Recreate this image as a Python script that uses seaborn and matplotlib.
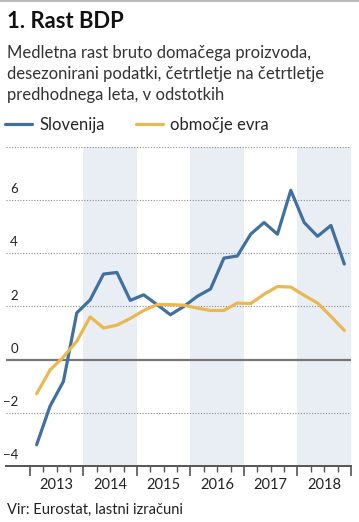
import numpy as np
import pandas as pd
import matplotlib
matplotlib.use('Agg')
import matplotlib.pyplot as plt
import matplotlib.transforms as mtransforms
import seaborn as sns

# Data (quarterly, y/y growth in %)
leta = [2013, 2014, 2015, 2016, 2017, 2018]
slovenija = [-3.2, -1.75, -0.82, 1.76, 2.25, 3.22, 3.28, 2.23,
             2.44, 2.07, 1.69, 2.0, 2.38, 2.66, 3.82, 3.9,
             4.72, 5.16, 4.72, 6.37, 5.16, 4.64, 5.05, 3.6]
evro = [-1.28, -0.39, 0.1, 0.69, 1.61, 1.19, 1.3, 1.55,
        1.85, 2.07, 2.07, 2.05, 1.94, 1.85, 1.85, 2.13,
        2.11, 2.46, 2.75, 2.73, 2.42, 2.13, 1.63, 1.1]
y_ticks = [-4, -2, 0, 2, 4, 6]
y_grid = [-2, 2, 4, 6, 8]

BLUE = '#41709f'
YELLOW = '#ebb74f'
SHADE = '#e9eef4'

sns.set_theme(style='white')
plt.rcParams['font.family'] = ['Lato', 'DejaVu Sans']

n = len(slovenija)
df = pd.DataFrame({
    'x': list(range(n)) * 2,
    'value': slovenija + evro,
    'serija': ['Slovenija'] * n + ['območje evra'] * n,
})

W, H = 359, 522
fig = plt.figure(figsize=(W / 100, H / 100), dpi=100)
ax = fig.add_axes([6 / W, 1 - 466 / H, 345 / W, (466 - 147) / H])

# shaded years
for i, yr in enumerate(leta):
    if i % 2 == 1:
        ax.axvspan(i * 4 - 0.5, i * 4 + 3.5, color=SHADE, lw=0, zorder=0)

for g in y_grid:
    ax.axhline(g, color='#8a8a8a', lw=0.8, ls=(0, (1, 1.5)), zorder=1)
ax.axhline(0, color='#777777', lw=1.6, zorder=1)

sns.lineplot(data=df, x='x', y='value', hue='serija',
             palette={'Slovenija': BLUE, 'območje evra': YELLOW},
             lw=2.3, ax=ax, legend=False, zorder=3)
handles = [l for l in ax.get_lines() if l.get_color() in (BLUE, YELLOW)][:2]

ax.set_xlim(-0.5 - 24 / 13.4, 23.5)
ax.set_ylim(-4, 8)
ax.set_xlabel('')
ax.set_ylabel('')
for s in ['top', 'left', 'right']:
    ax.spines[s].set_visible(False)
ax.spines['bottom'].set_color('#555555')
ax.spines['bottom'].set_linewidth(1.4)

ax.set_yticks([])
for t in y_ticks:
    lab = str(t).replace('-', '\u2212')
    ax.annotate(lab, xy=(0.035, t), xycoords=('axes fraction', 'data'),
                xytext=(0, 3.5), textcoords='offset points',
                ha='right', va='bottom', fontsize=9.5, color='#222222')

year_edges = [i * 4 - 0.5 for i in range(len(leta) + 1)]
quarter_edges = [i - 0.5 for i in range(n + 1)]
ax.set_xticks(year_edges)
ax.set_xticks(quarter_edges, minor=True)
ax.set_xticklabels([])
ax.tick_params(axis='x', which='major', length=7, width=1.2, color='#555555', bottom=True)
ax.tick_params(axis='x', which='minor', length=4, width=1.0, color='#555555', bottom=True)

trans = mtransforms.blended_transform_factory(ax.transData, fig.transFigure)
for i, yr in enumerate(leta):
    ax.text(i * 4 + 1.5, 1 - 489 / H, str(yr), transform=trans,
            ha='center', va='baseline', fontsize=10.5, color='#222222')

# header
fig.add_artist(plt.Line2D([0, 1], [1 - 1 / H, 1 - 1 / H], transform=fig.transFigure,
                          color='#bbbbbb', lw=1.5))
fig.text(7 / W, 1 - 28 / H, '1. Rast BDP', fontsize=15.8, fontweight='bold',
         color='#111111', va='baseline')
sub = ['Medletna rast bruto domačega proizvoda,',
       'desezonirani podatki, četrtletje na četrtletje',
       'predhodnega leta, v odstotkih']
for k, line in enumerate(sub):
    fig.text(7 / W, 1 - (58 + 21 * k) / H, line, fontsize=12,
             color='#333333', va='baseline')

fig.legend(handles, ['Slovenija', 'območje evra'], loc='center left',
           bbox_to_anchor=(5 / W, 1 - 125 / H), ncol=2, frameon=False,
           fontsize=12, handlelength=1.6, handletextpad=0.45,
           columnspacing=1.9, borderpad=0, borderaxespad=0)

fig.text(7 / W, 1 - 514 / H, 'Vir: Eurostat, lastni izračuni', fontsize=10.5,
         color='#222222', va='baseline')

fig.savefig('out.png', dpi=100)
